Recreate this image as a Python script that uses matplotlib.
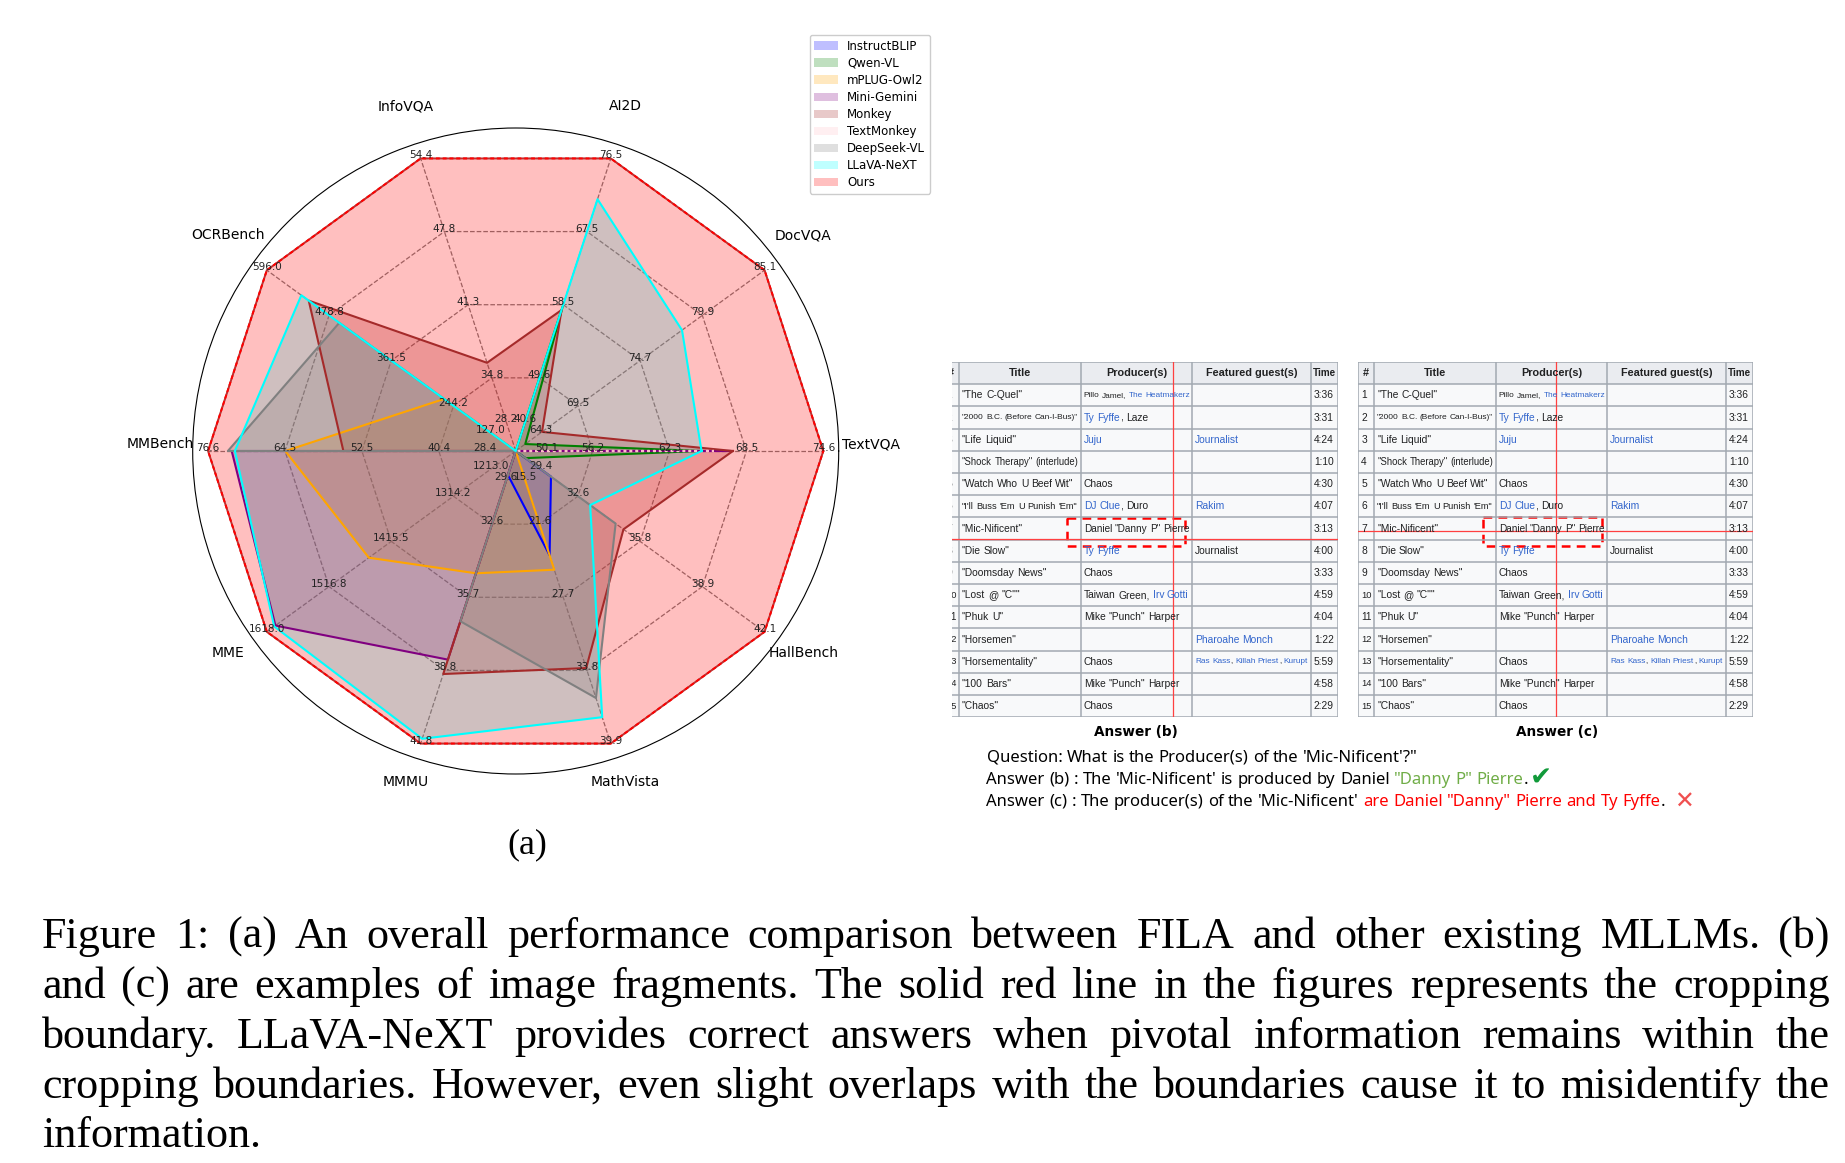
import re
import matplotlib
matplotlib.use("Agg")
import matplotlib.pyplot as plt
import numpy as np
from matplotlib.patches import Patch, Rectangle
from matplotlib.transforms import ScaledTranslation

W, H = 1845, 1163

# ---------------- radar data ----------------
benchmarks = ["TextVQA", "DocVQA", "AI2D", "InfoVQA", "OCRBench",
              "MMBench", "MME", "MMMU", "MathVista", "HallBench"]
bench_min = [50.1, 64.3, 40.6, 28.2, 127.0, 28.4, 1213.0, 29.6, 15.5, 29.4]
bench_max = [74.6, 85.1, 76.5, 54.4, 596.0, 76.6, 1618.0, 41.8, 39.9, 42.1]
ring_labels = [
    ["50.1", "56.2", "62.3", "68.5", "74.6"],
    ["64.3", "69.5", "74.7", "79.9", "85.1"],
    ["40.6", "49.6", "58.5", "67.5", "76.5"],
    ["28.2", "34.8", "41.3", "47.8", "54.4"],
    ["127.0", "244.2", "361.5", "478.8", "596.0"],
    ["28.4", "40.4", "52.5", "64.5", "76.6"],
    ["1213.0", "1314.2", "1415.5", "1516.8", "1618.0"],
    ["29.6", "32.6", "35.7", "38.8", "41.8"],
    ["15.5", "21.6", "27.7", "33.8", "39.9"],
    ["29.4", "32.6", "35.8", "38.9", "42.1"],
]

models = ["InstructBLIP", "Qwen-VL", "mPLUG-Owl2", "Mini-Gemini", "Monkey",
          "TextMonkey", "DeepSeek-VL", "LLaVA-NeXT", "Ours"]
model_colors = ["blue", "green", "orange", "purple", "brown",
                "pink", "gray", "cyan", "red"]

instructblip = [50.1, 64.3, 40.6, 28.2, 127.0, 28.4, 1213.0, 30.6, 24.2, 31.2]
qwen_vl = [64.8, 65.1, 58.5, 28.2, 127.0, 28.4, 1213.0, 29.6, 15.5, 29.9]
mplug_owl2 = [50.1, 64.3, 40.6, 28.2, 262.0, 64.5, 1452.0, 34.7, 25.4, 29.4]
mini_gemini = [67.2, 64.3, 40.6, 28.2, 127.0, 72.9, 1604.0, 38.3, 15.5, 29.4]
monkey = [67.4, 66.5, 57.9, 36.1, 517.0, 55.4, 1213.0, 38.9, 33.6, 34.9]
textmonkey = [65.9, 64.3, 40.6, 28.2, 127.0, 28.4, 1213.0, 29.6, 15.5, 29.4]
deepseek_vl = [50.1, 64.3, 40.6, 28.2, 459.5, 73.5, 1213.0, 36.7, 36.1, 34.5]
llava_next = [64.9, 78.2, 71.5, 28.2, 531.0, 72.4, 1606.0, 41.6, 37.7, 33.2]
ours = [74.6, 85.1, 76.5, 54.4, 596.0, 76.6, 1618.0, 41.8, 39.9, 42.1]
scores = [instructblip, qwen_vl, mplug_owl2, mini_gemini, monkey,
          textmonkey, deepseek_vl, llava_next, ours]

# ---------------- table data ----------------
table_header = ["#", "Title", "Producer(s)", "Featured guest(s)", "Time"]
track_no = ["1", "2", "3", "4", "5", "6", "7", "8", "9", "10", "11", "12", "13", "14", "15"]
track_titles = ['"The C-Quel"', '"2000 B.C. (Before Can-I-Bus)"', '"Life Liquid"',
                '"Shock Therapy" (interlude)', '"Watch Who U Beef Wit"',
                "\"I'll Buss 'Em U Punish 'Em\"", '"Mic-Nificent"', '"Die Slow"',
                '"Doomsday News"', '"Lost @ "C""', '"Phuk U"', '"Horsemen"',
                '"Horsementality"', '"100 Bars"', '"Chaos"']
# {...} marks a blue link
track_producers = ["Pillo Jamel, {The Heatmakerz}", "{Ty Fyffe}, Laze", "{Juju}", "",
                   "Chaos", "{DJ Clue}, Duro", 'Daniel "Danny P" Pierre', "{Ty Fyffe}",
                   "Chaos", "Taiwan Green, {Irv Gotti}", 'Mike "Punch" Harper', "",
                   "Chaos", 'Mike "Punch" Harper', "Chaos"]
track_guests = ["", "", "{Journalist}", "", "", "{Rakim}", "", "Journalist", "", "", "",
                "{Pharoahe Monch}", "{Ras Kass}, {Killah Priest}, {Kurupt}", "", ""]
track_times = ["3:36", "3:31", "4:24", "1:10", "4:30", "4:07", "3:13", "4:00",
               "3:33", "4:59", "4:04", "1:22", "5:59", "4:58", "2:29"]

question = "Question: What is the Producer(s) of the 'Mic-Nificent'?\""
answer_b = "Answer (b) : The 'Mic-Nificent' is produced by Daniel {\"Danny P\" Pierre}"
answer_c = ("Answer (c) : The producer(s) of the 'Mic-Nificent' "
            "{are Daniel \"Danny\" Pierre and Ty Fyffe}")

caption_lines = [
    "Figure 1: (a) An overall performance comparison between FILA and other existing MLLMs. (b)",
    "and (c) are examples of image fragments. The solid red line in the figures represents the cropping",
    "boundary. LLaVA-NeXT provides correct answers when pivotal information remains within the",
    "cropping boundaries. However, even slight overlaps with the boundaries cause it to misidentify the",
    "information.",
]

TABLE_FONT = ["Liberation Sans", "DejaVu Sans"]
Q_FONT = ["Noto Sans", "DejaVu Sans"]
SERIF = ["Liberation Serif", "DejaVu Serif"]
TXT = "#202122"
LINK = "#3366cc"

fig = plt.figure(figsize=(W / 100, H / 100), dpi=100)
renderer = fig.canvas.get_renderer()


def box(x0, y0, x1, y1):
    # pixel box (top-left origin) -> figure fraction rect
    return [x0 / W, 1 - y1 / H, (x1 - x0) / W, (y1 - y0) / H]


# ---------------- radar ----------------
cx, cy, rad = 515.7, 451.0, 323.0
ax = fig.add_axes(box(cx - rad, cy - rad, cx + rad, cy + rad), projection="polar")
n = len(benchmarks)
theta = np.arange(n) * 2 * np.pi / n
theta_c = np.append(theta, theta[0])
lo = np.array(bench_min)
hi = np.array(bench_max)

for k in [0.25, 0.5, 0.75, 1.0]:
    ax.plot(theta_c, [k] * (n + 1), color="gray", ls="--", lw=0.9, zorder=1)
for t in theta:
    ax.plot([t, t], [0, 1], color="gray", ls="--", lw=0.9, zorder=1)

for name, col, vals in zip(models, model_colors, scores):
    r = (np.array(vals) - lo) / (hi - lo)
    r = np.append(r, r[0])
    ax.fill(theta_c, r, color=col, alpha=0.25, lw=0, zorder=2)
    if name == "Ours":
        ax.plot(theta_c, r, color="#c03030", lw=1.4, zorder=3)
        ax.plot(theta_c, r, color="red", lw=1.4, ls=(0, (2, 1.5)), zorder=3)
    elif name == "TextMonkey":
        ax.plot(theta_c, r, color=col, lw=1.6, ls=":", zorder=3)
    else:
        ax.plot(theta_c, r, color=col, lw=1.5, zorder=3)

up3 = ax.transData + ScaledTranslation(0, 0.03, fig.dpi_scale_trans)
up7 = ax.transData + ScaledTranslation(0, 0.07, fig.dpi_scale_trans)
ring_pos = [0.1, 0.25, 0.5, 0.75, 1.0]
for t, labs in zip(theta, ring_labels):
    for rp, lab in zip(ring_pos, labs):
        ax.text(t, rp, lab, ha="center", va="center", fontsize=7.5,
                color="#222222", transform=up3, zorder=5)
for t, name in zip(theta, benchmarks):
    ax.text(t, 1.155, name, ha="center", va="center", fontsize=10, transform=up7)

ax.set_ylim(0, 1.05)
ax.set_xticks([])
ax.set_yticks([])
ax.grid(False)
ax.spines["polar"].set_linewidth(0.8)

handles = [Patch(facecolor=c, alpha=0.25, label=m) for m, c in zip(models, model_colors)]
fig.legend(handles=handles, loc="upper left", bbox_to_anchor=(809.5 / W, 1 - 35 / H),
           fontsize=8.5, labelspacing=0.34, borderaxespad=0, handlelength=2.0,
           frameon=True, edgecolor="#cccccc", framealpha=1)

# ---------------- overlay (pixel coordinates) ----------------
ov = fig.add_axes([0, 0, 1, 1])
ov.set_xlim(0, W)
ov.set_ylim(H, 0)
ov.axis("off")


def text_w(a, s, **kw):
    t = a.text(0, 0, s, **kw)
    w = t.get_window_extent(renderer).width
    t.remove()
    return w


def fit_size(a, s, target, size, **kw):
    return size * target / text_w(a, s, fontsize=size, **kw)


def put_runs(a, items, x, y, space, **kw):
    # items: (word, color, space_before)
    for i, (word, col, sp) in enumerate(items):
        if sp and i > 0:
            x += space
        t = a.text(x, y, word, color=col, ha="left", **kw)
        x += t.get_window_extent(renderer).width
    return x


def runs(s, base=TXT, link=LINK):
    items = []
    pending = False
    for part in re.split(r"(\{[^}]*\})", s):
        if not part:
            continue
        is_link = part.startswith("{")
        if is_link:
            part = part[1:-1]
        for m in re.finditer(r"(\s*)(\S+)", part):
            items.append((m.group(2), link if is_link else base,
                          len(m.group(1)) > 0 or pending))
            pending = False
        pending = part[-1:].isspace()
    return items


# ---------------- tables ----------------
col_w = [15.7, 121.7, 111.3, 118.9, 27.3]
head_h, row_h = 22.0, 22.2
top, bottom = 362.3, 717.3
tbase = 7.4
tkw = dict(family=TABLE_FONT, va="center")
tspace = text_w(ov, "x x", fontsize=tbase, **tkw) - text_w(ov, "xx", fontsize=tbase, **tkw)


def draw_table(x0, clip_x, red_x, red_y, dash_box):
    x1 = x0 + sum(col_w)
    ta = fig.add_axes(box(clip_x, top, x1, bottom))
    ta.set_xlim(clip_x, x1)
    ta.set_ylim(bottom, top)
    ta.axis("off")
    edges = np.concatenate([[x0], x0 + np.cumsum(col_w)])
    ta.add_patch(Rectangle((x0, top), sum(col_w), head_h, fc="#eaecf0", ec="none"))
    ta.add_patch(Rectangle((x0, top + head_h), sum(col_w), bottom - top - head_h,
                           fc="#f8f9fa", ec="none"))
    ys = [top, top + head_h] + [top + head_h + row_h * (i + 1) for i in range(15)]
    for y in ys:
        ta.plot([x0, x1], [y, y], color="#a2a9b1", lw=1.1)
    for x in edges:
        ta.plot([x, x], [top, bottom], color="#a2a9b1", lw=1.1)
    for j, h in enumerate(table_header):
        hs = min(tbase + 0.4, fit_size(ta, h, col_w[j] - 4, tbase, fontweight="bold", **tkw))
        ta.text((edges[j] + edges[j + 1]) / 2, top + head_h / 2, h, ha="center",
                fontweight="bold", color=TXT, clip_on=True, fontsize=hs, **tkw)
    for i in range(15):
        yc = top + head_h + row_h * (i + 0.5)
        cells = [track_no[i], track_titles[i], track_producers[i], track_guests[i], track_times[i]]
        for j, c in enumerate(cells):
            if not c:
                continue
            plain = c.replace("{", "").replace("}", "")
            fs = min(tbase, fit_size(ta, plain, col_w[j] - 5.5, tbase, **tkw))
            put_runs(ta, runs(c), edges[j] + 3.0, yc, tspace * fs / tbase,
                     clip_on=True, fontsize=fs, **tkw)
    ta.plot([red_x, red_x], [top, bottom], color="#ff4040", lw=0.9)
    ta.plot([clip_x, x1], [red_y, red_y], color="#ff4040", lw=0.9)
    bx0, by0, bx1, by1 = dash_box
    ta.add_patch(Rectangle((bx0, by0), bx1 - bx0, by1 - by0, fill=False, ec="red",
                           lw=1.8, ls=(0, (3.5, 2.5))))


draw_table(943.3, 951.7, 1172.7, 539.3, (1066.7, 517.7, 1185.0, 546.0))
draw_table(1358.3, 1358.3, 1555.7, 530.7, (1482.7, 516.7, 1601.7, 546.0))

ov.text(1135.8, 731.7, "Answer (b)", ha="center", va="center", fontsize=9.8, fontweight="bold")
ov.text(1556.7, 731.7, "Answer (c)", ha="center", va="center", fontsize=9.8, fontweight="bold")

qkw = dict(family=Q_FONT)
qsize = min(12.0, fit_size(ov, question, 432, 9, **qkw))
qfont = dict(fontsize=qsize, va="center", **qkw)
qsp = text_w(ov, "x x", **qfont) - text_w(ov, "xx", **qfont)
put_runs(ov, runs(question, base="black"), 986.5, 757.5, qsp, **qfont)
xe = put_runs(ov, runs(answer_b, base="black", link="#70ad47"), 986.5, 779.5, qsp, **qfont)
xe = put_runs(ov, [(".", "black", False)], xe, 779.5, qsp, **qfont)
ov.text(xe + 2, 778.5, "\u2714", color="#119a3a", fontsize=19, va="center", ha="left")
xe = put_runs(ov, runs(answer_c, base="black", link="red"), 986.5, 801.5, qsp, **qfont)
xe = put_runs(ov, [(".", "black", False)], xe, 801.5, qsp, **qfont)
ov.text(xe + 9, 801.5, "\u2715", color="#f05050", fontsize=17, va="center", ha="left")

# ---------------- caption ----------------
ov.text(527, 845, "(a)", ha="center", va="center", fontsize=26, family=SERIF)

cfont = dict(fontsize=31.8, family=SERIF, va="baseline")
base_y = [948, 998, 1048, 1098, 1147]
left_x, right_x = 42.0, 1830.0
for k, (line, yb) in enumerate(zip(caption_lines, base_y)):
    words = line.split()
    ws = [text_w(ov, w, **cfont) for w in words]
    if k < len(caption_lines) - 1:
        gap = (right_x - left_x - sum(ws)) / (len(words) - 1)
    else:
        gap = text_w(ov, "x x", **cfont) - text_w(ov, "xx", **cfont)
    x = left_x
    for w, ww in zip(words, ws):
        ov.text(x, yb, w, ha="left", color="black", **cfont)
        x += ww + gap

fig.savefig("out.png", dpi=100)
